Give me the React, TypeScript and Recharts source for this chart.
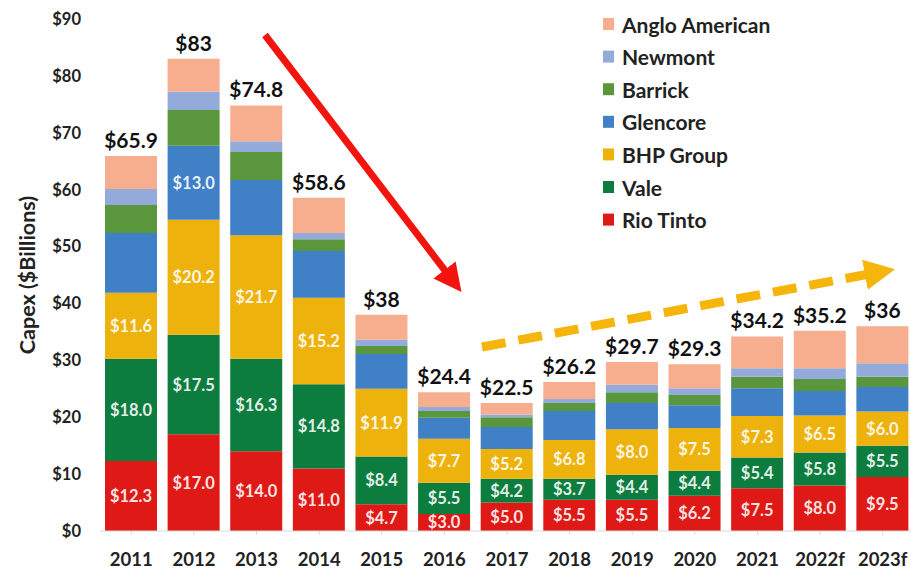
import React from "react";
import { BarChart, Bar, XAxis, YAxis, LabelList } from "recharts";

const years = ["2011", "2012", "2013", "2014", "2015", "2016", "2017", "2018", "2019", "2020", "2021", "2022f", "2023f"];
const rioTinto = [12.3, 17.0, 14.0, 11.0, 4.7, 3.0, 5.0, 5.5, 5.5, 6.2, 7.5, 8.0, 9.5];
const vale = [18.0, 17.5, 16.3, 14.8, 8.4, 5.5, 4.2, 3.7, 4.4, 4.4, 5.4, 5.8, 5.5];
const bhp = [11.6, 20.2, 21.7, 15.2, 11.9, 7.7, 5.2, 6.8, 8.0, 7.5, 7.3, 6.5, 6.0];
const glencore = [10.5, 13.0, 9.7, 8.2, 6.1, 3.7, 3.9, 5.1, 4.6, 4.0, 4.9, 4.3, 4.3];
const barrick = [4.9, 6.3, 4.9, 2.1, 1.4, 1.2, 1.7, 1.4, 1.9, 1.8, 2.0, 2.1, 1.8];
const newmont = [2.8, 3.2, 1.9, 1.1, 1.1, 0.7, 0.5, 0.7, 1.3, 1.2, 1.5, 1.9, 2.4];
const angloAmerican = [5.8, 5.8, 6.3, 6.2, 4.4, 2.6, 2.0, 3.0, 4.0, 4.2, 5.6, 6.6, 6.5];
const totals = [65.9, 83, 74.8, 58.6, 38, 24.4, 22.5, 26.2, 29.7, 29.3, 34.2, 35.2, 36];
const totalLabels = ["$65.9", "$83", "$74.8", "$58.6", "$38", "$24.4", "$22.5", "$26.2", "$29.7", "$29.3", "$34.2", "$35.2", "$36"];
const glencoreLabels = ["", "$13.0", "", "", "", "", "", "", "", "", "", "", ""];
const yTicks = [0, 10, 20, 30, 40, 50, 60, 70, 80, 90];

const series = [
  { key: "rio", name: "Rio Tinto", color: "#DF1A16" },
  { key: "vale", name: "Vale", color: "#0C7D3F" },
  { key: "bhp", name: "BHP Group", color: "#EDB20C" },
  { key: "glencore", name: "Glencore", color: "#3F80C6" },
  { key: "barrick", name: "Barrick", color: "#5A973C" },
  { key: "newmont", name: "Newmont", color: "#94AADB" },
  { key: "anglo", name: "Anglo American", color: "#F6AE8E" },
];

const data = years.map((y, i) => ({
  year: y,
  rio: rioTinto[i],
  vale: vale[i],
  bhp: bhp[i],
  glencore: glencore[i],
  barrick: barrick[i],
  newmont: newmont[i],
  anglo: angloAmerican[i],
  total: totals[i],
  totalLabel: totalLabels[i],
  glencoreLabel: glencoreLabels[i],
}));

const FONT = "Lato, 'Open Sans', sans-serif";

const money = (v: any) => `$${Number(v).toFixed(1)}`;

const SegLabel = (props: any) => {
  const { x, y, width, height, value } = props;
  if (value === "" || value == null) return null;
  return (
    <text
      x={x + width / 2}
      y={y + height / 2}
      textAnchor="middle"
      dominantBaseline="central"
      fill="#ffffff"
      fillOpacity={0.9}
      fontFamily={FONT}
      fontWeight={700}
      fontSize={16.5}
    >
      {typeof value === "number" ? money(value) : value}
    </text>
  );
};

const TotalLabel = (props: any) => {
  const { x, y, width, value } = props;
  return (
    <text
      x={x + width / 2}
      y={y - 8}
      textAnchor="middle"
      fill="#111"
      fontFamily={FONT}
      fontWeight={700}
      fontSize={21}
    >
      {value}
    </text>
  );
};

const legendItems = [...series].reverse();

export default function App() {
  return (
    <div style={{ position: "absolute", left: 0, top: 0, width: 911, height: 570, overflow: "hidden", background: "#fff" }}>
      <BarChart
        width={914}
        height={570}
        data={data}
        margin={{ top: 19, right: 0, bottom: 0, left: 0 }}
        barSize={52}
      >
        <XAxis
          dataKey="year"
          height={39}
          axisLine={{ stroke: "#d9d9d9" }}
          tickLine={{ stroke: "#d9d9d9" }}
          tickSize={4}
          tick={{ fill: "#222", fontFamily: FONT, fontWeight: 700, fontSize: 18.5 }}
          tickMargin={18}
          interval={0}
        />
        <YAxis
          width={100}
          domain={[0, 90]}
          ticks={yTicks}
          axisLine={false}
          tickLine={false}
          tickSize={0}
          tickMargin={19}
          tickFormatter={(v: number) => `$${v}`}
          tick={{ fill: "#222", fontFamily: FONT, fontWeight: 700, fontSize: 16.5 }}
        />
        {series.map((s) => (
          <Bar key={s.key} dataKey={s.key} name={s.name} stackId="a" fill={s.color} isAnimationActive={false}>
            {(s.key === "rio" || s.key === "vale" || s.key === "bhp") && (
              <LabelList dataKey={s.key} content={SegLabel} />
            )}
            {s.key === "glencore" && <LabelList dataKey="glencoreLabel" content={SegLabel} />}
            {s.key === "anglo" && <LabelList dataKey="totalLabel" content={TotalLabel} />}
          </Bar>
        ))}
      </BarChart>
      <svg width={911} height={570} style={{ position: "absolute", left: 0, top: 0, pointerEvents: "none" }}>
        <defs>
          <marker id="redHead" markerWidth="4" markerHeight="4" refX="2" refY="2" orient="auto" markerUnits="strokeWidth">
            <path d="M0,0 L4,2 L0,4 z" fill="#F2150F" />
          </marker>
          <marker id="yelHead" markerWidth="3.4" markerHeight="3.4" refX="1.7" refY="1.7" orient="auto" markerUnits="strokeWidth">
            <path d="M0,0 L3.4,1.7 L0,3.4 z" fill="#F5B50A" />
          </marker>
        </defs>
        <text
          x={0}
          y={0}
          transform="translate(27,275) rotate(-90)"
          textAnchor="middle"
          dominantBaseline="central"
          fill="#222"
          fontFamily={FONT}
          fontWeight={700}
          fontSize={21.5}
        >
          Capex ($Billions)
        </text>
        <line x1={265} y1={35} x2={453} y2={281} stroke="#F2150F" strokeWidth={7} markerEnd="url(#redHead)" />
        <line x1={482} y1={347} x2={880} y2={272} stroke="#F5B50A" strokeWidth={9} strokeDasharray="24 13" markerEnd="url(#yelHead)" />
        {legendItems.map((s, i) => (
          <g key={s.key}>
            <rect x={603} y={18 + i * 32.6} width={11} height={12} fill={s.color} />
            <text x={622} y={24 + i * 32.6} dominantBaseline="central" fill="#222" fontFamily={FONT} fontWeight={700} fontSize={21}>
              {s.name}
            </text>
          </g>
        ))}
      </svg>
    </div>
  );
}
